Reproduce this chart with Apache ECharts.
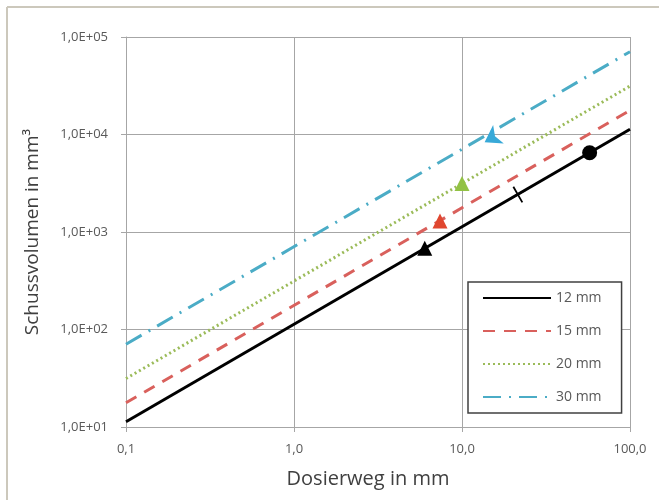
<!DOCTYPE html>
<html>
<head>
<meta charset="utf-8">
<script src="https://cdn.jsdelivr.net/npm/echarts@6/dist/echarts.min.js"></script>
<style>
  html, body { margin: 0; padding: 0; background: #fff; }
  #chart { width: 659px; height: 500px; }
</style>
</head>
<body>
<div id="chart"></div>
<script>
// values (log-log, straight lines -> end points)
const names = ['12 mm', '15 mm', '20 mm', '30 mm'];
const line12 = [[0.1, 11.3], [100, 11300]];
const line15 = [[0.1, 17.7], [100, 17700]];
const line20 = [[0.1, 31.4], [100, 31400]];
const line30 = [[0.1, 70.7], [100, 70700]];

// single marker points on the lines
const mark12a = [[6.0, 680]];
const mark12b = [[21.5, 2420]];
const mark12c = [[57.5, 6500]];
const mark15 = [[7.4, 1300]];
const mark20 = [[10, 3140]];
const mark30 = [[14.6, 9600]];

const xTickLabels = ['0,1', '1,0', '10,0', '100,0'];
const yTickLabels = ['1,0E+01', '1,0E+02', '1,0E+03', '1,0E+04', '1,0E+05'];

const chart = echarts.init(document.getElementById('chart'));

const gridColor = '#a6a6a6';
const labelColor = '#595959';
const font = '"Open Sans", "DejaVu Sans", sans-serif';

const lineSeries = (name, data, color, width, type) => ({
    name: name,
    type: 'line',
    data: data,
    symbol: 'none',
    lineStyle: { color: color, width: width, type: type },
    itemStyle: { color: color },
    z: 3
});

const markSeries = (data, symbol, color, size, rotate, stroke, offset) => ({
    type: 'scatter',
    data: data,
    symbol: symbol,
    symbolSize: size,
    symbolRotate: rotate || 0,
    symbolOffset: offset || [0, 0],
    itemStyle: stroke
        ? { color: color, borderColor: color, borderWidth: 1.8, opacity: 1 }
        : { color: color, opacity: 1 },
    z: 5
});

const option = {
    animation: false,
    graphic: [
        { type: 'line', shape: { x1: 7, y1: 7, x2: 7, y2: 500 }, style: { stroke: '#ccc8bc', lineWidth: 2 } },
        { type: 'line', shape: { x1: 7, y1: 7, x2: 659, y2: 7 }, style: { stroke: '#ccc8bc', lineWidth: 2 } }
    ],
    grid: { left: 126, right: 29, top: 37, bottom: 73 },
    legend: {
        data: names,
        orient: 'vertical',
        left: 468,
        top: 282,
        itemWidth: 68,
        itemHeight: 12,
        itemGap: 19,
        padding: [9, 20, 9, 14],
        backgroundColor: '#fff',
        borderColor: '#404040',
        borderWidth: 1.5,
        borderRadius: 0,
        itemStyle: { opacity: 0 },
        textStyle: { color: labelColor, fontSize: 14, fontFamily: font }
    },
    xAxis: {
        type: 'log',
        logBase: 10,
        min: 0.1,
        max: 100,
        name: 'Dosierweg in mm',
        nameLocation: 'middle',
        nameGap: 42,
        nameTextStyle: { color: '#404040', fontSize: 20, fontFamily: font, padding: [0, 20, 0, 0] },
        axisLine: { lineStyle: { color: gridColor } },
        axisTick: { show: true, length: 5, lineStyle: { color: gridColor } },
        minorTick: { show: false },
        axisLabel: {
            color: labelColor, fontSize: 13, fontFamily: font, margin: 16,
            formatter: v => xTickLabels[Math.round(Math.log10(v)) + 1]
        },
        splitLine: { show: true, lineStyle: { color: gridColor, width: 1 } }
    },
    yAxis: {
        type: 'log',
        logBase: 10,
        min: 10,
        max: 100000,
        name: 'Schussvolumen in mm³',
        nameLocation: 'middle',
        nameGap: 84,
        nameTextStyle: { color: '#404040', fontSize: 19, fontFamily: font },
        axisLine: { show: true, lineStyle: { color: gridColor } },
        axisTick: { show: true, length: 5, lineStyle: { color: gridColor } },
        axisLabel: {
            color: labelColor, fontSize: 13, fontFamily: font, margin: 18,
            formatter: v => yTickLabels[Math.round(Math.log10(v)) - 1]
        },
        splitLine: { show: true, lineStyle: { color: gridColor, width: 1 } }
    },
    series: [
        lineSeries('12 mm', line12, '#000000', 3, 'solid'),
        lineSeries('15 mm', line15, '#d9605c', 3, [12, 9]),
        lineSeries('20 mm', line20, '#9bbb59', 3, [2, 3]),
        lineSeries('30 mm', line30, '#4bacc6', 3, [18, 8, 2, 8]),
        markSeries(mark12a, 'triangle', '#000000', 15),
        markSeries(mark12b, 'path://M5,0 L5,10 M0,5 L10,5', '#000000', 18, 30, true),
        markSeries(mark12c, 'circle', '#000000', 15),
        markSeries(mark15, 'triangle', '#e0472f', 15),
        markSeries(mark20, 'triangle', '#92c244', 15),
        markSeries(mark30, 'arrow', '#38a9d8', 16, 120, false, [-5, 6])
    ]
};

chart.setOption(option);
</script>
</body>
</html>
